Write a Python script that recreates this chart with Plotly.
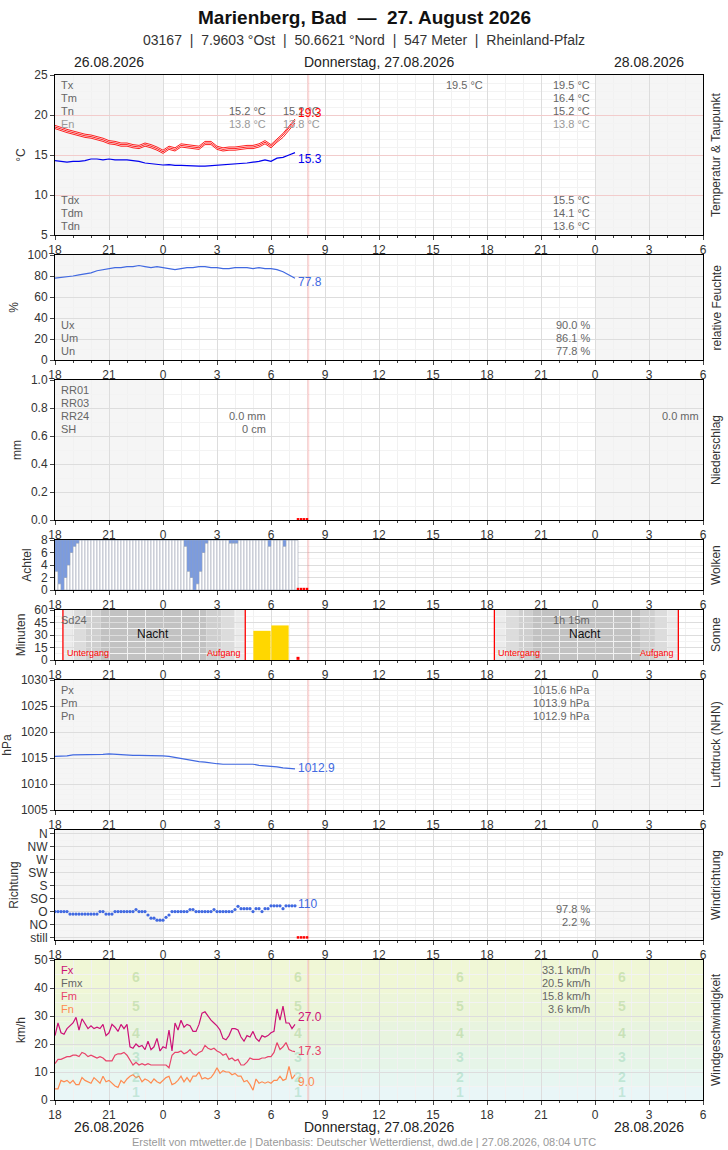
import plotly.graph_objects as go

# ---------------- data ----------------
t20 = [18 + i / 3 for i in range(41)]          # 20-min steps, hours since 26.08 00:00
t10 = [18 + i / 6 for i in range(81)]          # 10-min steps
t_cloud = [18 + i / 6 for i in range(82)]

temp_tm = [18.5, 18.2, 18.0, 17.8, 17.6, 17.4, 17.3, 17.1, 16.9, 16.6, 16.5, 16.3, 16.3, 16.1, 16.0, 16.3, 16.1, 15.8, 15.4, 15.9,
           15.7, 16.2, 16.1, 16.0, 15.9, 16.5, 16.5, 15.9, 15.7, 15.8, 15.8, 15.9, 16.0, 16.0, 16.2, 16.6, 16.1, 16.8, 17.5, 18.4, 19.3]
temp_tx = [18.7, 18.4, 18.2, 18.0, 17.8, 17.6, 17.5, 17.3, 17.1, 16.8, 16.7, 16.5, 16.5, 16.3, 16.2, 16.5, 16.3, 16.0, 15.6, 16.1,
           15.9, 16.4, 16.3, 16.2, 16.1, 16.7, 16.7, 16.1, 15.9, 16.0, 16.0, 16.1, 16.2, 16.2, 16.4, 16.8, 16.3, 17.0, 17.7, 18.6, 19.5]
temp_tn = [18.3, 18.0, 17.8, 17.6, 17.4, 17.2, 17.1, 16.9, 16.7, 16.4, 16.3, 16.1, 16.1, 15.9, 15.8, 16.1, 15.9, 15.6, 15.2, 15.7,
           15.5, 16.0, 15.9, 15.8, 15.7, 16.3, 16.3, 15.7, 15.5, 15.6, 15.6, 15.7, 15.8, 15.8, 16.0, 16.4, 15.9, 16.6, 17.2, 18.1, 19.0]
dewpoint = [14.3, 14.2, 14.1, 14.2, 14.2, 14.3, 14.5, 14.5, 14.4, 14.5, 14.4, 14.4, 14.4, 14.3, 14.2, 14.0, 13.9, 13.8, 13.75, 13.8,
            13.7, 13.7, 13.65, 13.6, 13.6, 13.6, 13.65, 13.7, 13.75, 13.8, 13.85, 13.9, 14.0, 14.1, 14.2, 14.4, 14.2, 14.6, 14.7, 15.0, 15.3]
humidity = [78, 78.5, 79, 80, 81, 82, 83, 85, 86, 87, 88, 88, 89, 89, 90, 89, 88, 89, 88, 87, 86, 87, 88, 88, 89, 89, 88, 88, 87, 87,
            88, 88, 88, 87, 88, 87, 87, 86, 84, 81, 77.8]
pressure = [1015.3, 1015.3, 1015.4, 1015.6, 1015.6, 1015.7, 1015.7, 1015.6, 1015.7, 1015.8, 1015.7, 1015.6, 1015.6, 1015.5, 1015.5,
            1015.5, 1015.5, 1015.4, 1015.4, 1015.3, 1015.1, 1014.9, 1014.6, 1014.4, 1014.3, 1014.2, 1014.0, 1013.9, 1013.8, 1013.8,
            1013.8, 1013.9, 1013.9, 1013.8, 1013.6, 1013.5, 1013.5, 1013.3, 1013.1, 1013.0, 1012.9]
clouds = [3, 1, 0, 2, 4, 6, 7, 7.5] + [8] * 35 + [7, 3, 2, 0, 1, 3, 6, 7.5] + [8] * 7 + [7.5, 7.5, 7.5] + [8] * 10 + [7] + [8] * 4 + [7] + [8] * 4
clouds = clouds[:82]
sun_x = [29.5, 30.5]
sun_min = [35, 41.5]
sun_missing_x = [31.5]
wind_dir = ([90] * 5 + [81] * 10 + [90] * 2 + [81] * 3 + [90] * 7 + [97] + [90] * 3 + [78, 67, 67, 60, 60, 60, 70, 78] + [90] * 6 + [97] * 2
            + [90] * 6 + [97] + [90] * 6 + [97, 108, 100, 100, 100, 100, 90, 100, 100, 90, 100, 100, 110, 110, 110, 110, 100, 110, 110, 110, 110])
wind_dir = wind_dir[:81]
fx = [23, 27.5, 24, 23.5, 25.5, 26.5, 27.5, 29.5, 25, 29, 27, 25.5, 26.5, 25.5, 26, 25.5, 27, 23, 24, 27, 26, 24.5, 27, 25.5,
      27, 19, 18.5, 20, 19, 19.5, 18, 21, 18, 19, 22, 17.5, 19, 18.5, 25, 17.5, 27.5, 25, 28.5, 26, 27, 26.5, 24.5, 24.5,
      27, 31, 31.5, 30, 28.5, 27.5, 26.5, 25, 22, 21.5, 23, 25.5, 25.5, 25, 22.5, 21, 23, 22.5, 24.5, 22, 21, 23, 22.5, 23,
      24, 24.5, 32.5, 28.5, 33.5, 27.5, 27.5, 25.5, 27]
fm = [13, 14.5, 14.5, 15, 15.5, 15.5, 16, 16, 15.5, 17, 16.5, 15.5, 16, 15.5, 15, 15.5, 15, 14, 14, 14, 16, 16.5, 16.5, 17,
      16, 14, 12.5, 13.5, 12.5, 13, 12.5, 13, 12.5, 12.5, 12.5, 12.5, 12.5, 12.5, 11.5, 16, 17, 17, 17.5, 16.5, 17, 18, 16.5, 16,
      17, 17.5, 19.5, 18.5, 18, 18.5, 17.5, 17, 16, 16.5, 14.5, 15, 14, 14.5, 12.5, 12.5, 13.5, 15, 14.5, 14.5, 14.5, 15, 15, 15.5,
      15.5, 17, 20.5, 18, 19, 20.5, 18, 17.5, 17.3]
fn = [4, 4, 7, 6.5, 7, 6, 7, 5.5, 5.5, 8, 7, 6.5, 6, 8, 7, 6, 8.5, 6.5, 7, 6, 5, 4.5, 7, 6, 7.5, 8.5, 9, 8, 8.5, 6.5,
      7.5, 7, 6, 7.5, 6.5, 6, 7, 8, 8.5, 5.5, 6, 7, 8.5, 6.5, 8, 6.5, 8.5, 8.5, 10, 7.5, 8, 7.5, 8, 9.5, 11.5, 9.5, 10.5, 10,
      10, 9, 9.5, 8.5, 8.5, 6.5, 7, 5.5, 3.5, 7.5, 6, 6.5, 6, 6.5, 6, 7, 7, 8.5, 7, 7.5, 12, 7.5, 9]
missing_x = [31.5, 31.67, 31.83, 32.0]
now_x = 32.07
x_ticks = list(range(18, 55, 3))
x_labels = [str(h % 24) for h in x_ticks]
dir_labels = ["still", "NO", "O", "SO", "S", "SW", "W", "NW", "N"]
beaufort_bounds = [0, 5, 11, 19, 28, 38, 50]
beaufort_colors = ["#e9f6f7", "#e7f6f1", "#e6f5e8", "#e8f4df", "#ecf5d9", "#f0f7d6"]
beaufort_pos = [3, 8.3, 15.3, 24, 33.5, 44]

FONT = "Liberation Sans, Arial, sans-serif"
X0, X1, YT, YB = 55, 703, 75, 1100
W = X1 - X0
H = YB - YT
def px(x): return (x - X0) / W
def py(y): return (YB - y) / H

panels = [  # top, bottom px, y range, dtick, minor, ylabel, right label, tickformat
    (75, 235, [5, 25], 5, 1, "°C", "Temperatur & Taupunkt", None),
    (255, 360, [0, 100], 20, 10, "%", "relative Feuchte", None),
    (380, 520, [0, 1], 0.2, 0.1, "mm", "Niederschlag", ".1f"),
    (540, 590, [0, 8], 2, 1, "Achtel", "Wolken", None),
    (610, 660, [0, 60], 15, 7.5, "Minuten", "Sonne", None),
    (680, 810, [1005, 1030], 5, 1, "hPa", "Luftdruck (NHN)", None),
    (830, 940, [-0.2, 8.3], None, None, "Richtung", "Windrichtung", None),
    (960, 1100, [0, 50], 10, 5, "km/h", "Windgeschwindigkeit", None),
]

fig = go.Figure()
layout = dict(width=728, height=1150, margin=dict(l=55, r=25, t=75, b=50, autoexpand=False),
              paper_bgcolor="white", plot_bgcolor="rgba(0,0,0,0)", showlegend=False,
              font=dict(family=FONT, size=12, color="#333"), barmode="overlay")
shapes, anns = [], []

def ann(x, y, text, color="#666", size=11, xa="left", ya="middle", **kw):
    anns.append(dict(x=px(x), y=py(y), xref="paper", yref="paper", text=text, showarrow=False,
                     font=dict(size=size, color=color, family=FONT), xanchor=xa, yanchor=ya, **kw))

for i, (top, bot, yr, dt, mn, yl, rl, tf) in enumerate(panels, start=1):
    s = "" if i == 1 else str(i)
    grid = "#f2cccc" if i == 1 else "#dddddd"
    layout["xaxis" + s] = dict(domain=[0, 1], anchor="y" + s, range=[18, 54], tickmode="array", tickvals=x_ticks,
                               ticktext=x_labels, showgrid=True, gridcolor="#dddddd", ticks="outside", ticklen=4,
                               minor=dict(dtick=1, tick0=18, showgrid=True, gridcolor="#f1f1f1", ticks="outside", ticklen=2),
                               showline=True, linecolor="#000", mirror=True, zeroline=False, automargin=False,
                               tickfont=dict(size=12, color="#333"))
    yax = dict(domain=[py(bot), py(top)], anchor="x" + s, range=yr, showgrid=True, gridcolor=grid, automargin=False,
               ticks="outside", ticklen=4, showline=True, linecolor="#000", mirror=True, zeroline=False,
               title=dict(text=yl, standoff=6, font=dict(size=12)), tickfont=dict(size=12, color="#333"))
    if tf:
        yax["tickformat"] = tf
    if dt:
        yax.update(dtick=dt, minor=dict(dtick=mn, showgrid=True, gridcolor="#f3f3f3"))
    else:
        yax.update(tickmode="array", tickvals=list(range(9)), ticktext=dir_labels, minor=dict(dtick=0.5, showgrid=True, gridcolor="#f3f3f3"))
    layout["yaxis" + s] = yax
    xr, yr_ = "x" + s, "y" + s + " domain"
    if i not in (5, 8, 4):
        for a, b in ((18, 24), (48, 54)):
            shapes.append(dict(type="rect", xref=xr, yref=yr_, x0=a, x1=b, y0=0, y1=1, fillcolor="#f5f5f5",
                               line=dict(width=0), layer="below"))
    shapes.append(dict(type="line", xref=xr, yref=yr_, x0=now_x, x1=now_x, y0=0, y1=1,
                       line=dict(color="rgba(255,0,0,0.15)", width=2)))
    ann(716, (top + bot) / 2, rl, color="#333", size=12, xa="center", textangle=-90)

# sun panel night bands
band_cols = ["#ebebeb", "#dcdcdc", "#cfcfcf", "#c2c2c2", "#cfcfcf", "#dcdcdc", "#ebebeb"]
for edges in ([18.44, 18.96, 19.70, 20.54, 26.41, 27.24, 27.98, 28.57],
              [42.41, 43.04, 43.74, 44.52, 50.5, 51.33, 52.02, 52.63]):
    for k in range(7):
        shapes.append(dict(type="rect", xref="x5", yref="y5 domain", x0=edges[k], x1=edges[k + 1], y0=0, y1=1,
                           fillcolor=band_cols[k], line=dict(width=0), layer="below"))
    for e in (edges[0], edges[-1]):
        shapes.append(dict(type="line", xref="x5", yref="y5 domain", x0=e, x1=e, y0=0, y1=1, line=dict(color="red", width=1.3)))
# beaufort bands
for k in range(6):
    shapes.append(dict(type="rect", xref="x8", yref="y8", x0=18, x1=54, y0=beaufort_bounds[k], y1=beaufort_bounds[k + 1],
                       fillcolor=beaufort_colors[k], line=dict(width=0), layer="below"))
for xb in (22.5, 31.5, 40.5, 49.5):
    for k in range(6):
        anns.append(dict(x=xb, y=beaufort_pos[k], xref="x8", yref="y8", text=f"<b>{k + 1}</b>", showarrow=False,
                         font=dict(size=14, color="rgba(120,200,160,0.35)" if k < 3 else "rgba(140,190,110,0.35)")))

# traces
for ser, c in ((temp_tx, "#ff2020"), (temp_tm, "#ff2020"), (temp_tn, "#ff2020")):
    fig.add_trace(go.Scatter(x=t20, y=ser, mode="lines", line=dict(color=c, width=1), xaxis="x", yaxis="y"))
fig.add_trace(go.Scatter(x=t20, y=dewpoint, mode="lines", line=dict(color="#0000ee", width=1.2), xaxis="x", yaxis="y"))
fig.add_trace(go.Scatter(x=t20, y=humidity, mode="lines", line=dict(color="#4169e1", width=1.2), xaxis="x2", yaxis="y2"))
fig.add_trace(go.Scatter(x=missing_x, y=[0.005] * 4, mode="markers", marker=dict(color="red", size=2.5, symbol="square"), xaxis="x3", yaxis="y3"))
cx = [v + 1 / 12 for v in t_cloud]
fig.add_trace(go.Bar(x=cx, y=clouds, width=1 / 6, marker=dict(color="#ffffff", line=dict(color="#9aa3b3", width=0.6)), xaxis="x4", yaxis="y4"))
fig.add_trace(go.Bar(x=cx, y=[8 - c for c in clouds], base=clouds, width=1 / 6,
                     marker=dict(color="#7b9be0", line=dict(color="#9aa3b3", width=0.3)), xaxis="x4", yaxis="y4"))
fig.add_trace(go.Scatter(x=missing_x, y=[0.15] * 4, mode="markers", marker=dict(color="red", size=2.5, symbol="square"), xaxis="x4", yaxis="y4"))
fig.add_trace(go.Bar(x=sun_x, y=sun_min, width=0.96, marker=dict(color="#ffd700", line=dict(width=0)), xaxis="x5", yaxis="y5"))
fig.add_trace(go.Scatter(x=sun_missing_x, y=[2], mode="markers", marker=dict(color="red", size=3, symbol="square"), xaxis="x5", yaxis="y5"))
fig.add_trace(go.Scatter(x=t20, y=pressure, mode="lines", line=dict(color="#4169e1", width=1.2), xaxis="x6", yaxis="y6"))
fig.add_trace(go.Scatter(x=t10, y=[d / 45 for d in wind_dir], mode="markers", marker=dict(color="#4169e1", size=3.2),
                         xaxis="x7", yaxis="y7"))
fig.add_trace(go.Scatter(x=missing_x, y=[0] * 4, mode="markers", marker=dict(color="red", size=2.5, symbol="square"), xaxis="x7", yaxis="y7"))
for ser, c in ((fx, "#cc1177"), (fm, "#e8436a"), (fn, "#ff8a50")):
    fig.add_trace(go.Scatter(x=t10, y=ser, mode="lines", line=dict(color=c, width=1.2), xaxis="x8", yaxis="y8"))

# texts
ann(364, 18, "<b>Marienberg, Bad  —  27. August 2026</b>", color="#111", size=19, xa="center")
ann(364, 40, "03167  |  7.9603 °Ost  |  50.6621 °Nord  |  547 Meter  |  Rheinland-Pfalz", color="#333", size=14, xa="center")
for yy in (62, 1127):
    ann(109, yy, "26.08.2026", color="#222", size=14, xa="center")
    ann(379, yy, "Donnerstag, 27.08.2026", color="#222", size=14, xa="center")
    ann(649, yy, "28.08.2026", color="#222", size=14, xa="center")
ann(364, 1142, "Erstellt von mtwetter.de | Datenbasis: Deutscher Wetterdienst, dwd.de | 27.08.2026, 08:04 UTC", color="#999", size=11, xa="center")

for j, (t, c) in enumerate((("Tx", "#666"), ("Tm", "#666"), ("Tn", "#666"), ("En", "#999"))):
    ann(59, 85 + 13 * j, t, c)
ann(268, 111, "15.2 °C", xa="right"); ann(268, 124, "13.8 °C", "#999", xa="right")
ann(322, 111, "15.2 °C", xa="right"); ann(322, 124, "13.8 °C", "#999", xa="right")
ann(485, 85, "19.5 °C", xa="right")
for j, (t, c) in enumerate((("19.5 °C", "#666"), ("16.4 °C", "#666"), ("15.2 °C", "#666"), ("13.8 °C", "#999"))):
    ann(592, 85 + 13 * j, t, c, xa="right")
for j, (t, v) in enumerate((("Tdx", "15.5 °C"), ("Tdm", "14.1 °C"), ("Tdn", "13.6 °C"))):
    ann(59, 200 + 13 * j, t); ann(592, 200 + 13 * j, v, xa="right")
ann(296, 113, "19.3", "red", 12); ann(296, 159, "15.3", "#0000ee", 12)
ann(296, 282, "77.8", "#4169e1", 12)
for j, (t, v) in enumerate((("Ux", "90.0 %"), ("Um", "86.1 %"), ("Un", "77.8 %"))):
    ann(59, 325 + 13 * j, t); ann(592, 325 + 13 * j, v, xa="right")
for j, t in enumerate(("RR01", "RR03", "RR24", "SH")):
    ann(59, 390 + 13 * j, t)
ann(268, 416, "0.0 mm", xa="right"); ann(268, 429, "0 cm", xa="right"); ann(701, 416, "0.0 mm", xa="right")
ann(59, 620, "Sd24"); ann(153, 634, "Nacht", "#111", 12, xa="center"); ann(585, 634, "Nacht", "#111", 12, xa="center")
ann(592, 620, "1h 15m", xa="right")
ann(65, 653, "Untergang", "red", 9); ann(243, 653, "Aufgang", "red", 9, xa="right")
ann(496, 653, "Untergang", "red", 9); ann(676, 653, "Aufgang", "red", 9, xa="right")
ann(296, 768, "1012.9", "#4169e1", 12)
for j, (t, v) in enumerate((("Px", "1015.6 hPa"), ("Pm", "1013.9 hPa"), ("Pn", "1012.9 hPa"))):
    ann(59, 690 + 13 * j, t); ann(592, 690 + 13 * j, v, xa="right")
ann(296, 904, "110", "#4169e1", 12)
ann(592, 909, "97.8 %", xa="right"); ann(592, 922, "2.2 %", xa="right")
for j, (t, c, v) in enumerate((("Fx", "#cc1177", "33.1 km/h"), ("Fmx", "#666", "20.5 km/h"), ("Fm", "#e8436a", "15.8 km/h"),
                               ("Fn", "#ff8a50", "3.6 km/h"))):
    ann(59, 970 + 13 * j, t, c); ann(592, 970 + 13 * j, v, xa="right")
ann(296, 1017, "27.0", "#cc1177", 12); ann(296, 1051, "17.3", "#e8436a", 12); ann(296, 1082, "9.0", "#ff8a50", 12)

layout["shapes"] = shapes
layout["annotations"] = anns
fig.update_layout(**layout)
fig.write_html("out.html", config={"displayModeBar": False},
               post_script="document.body.style.margin='0';document.body.style.overflow='hidden';")
